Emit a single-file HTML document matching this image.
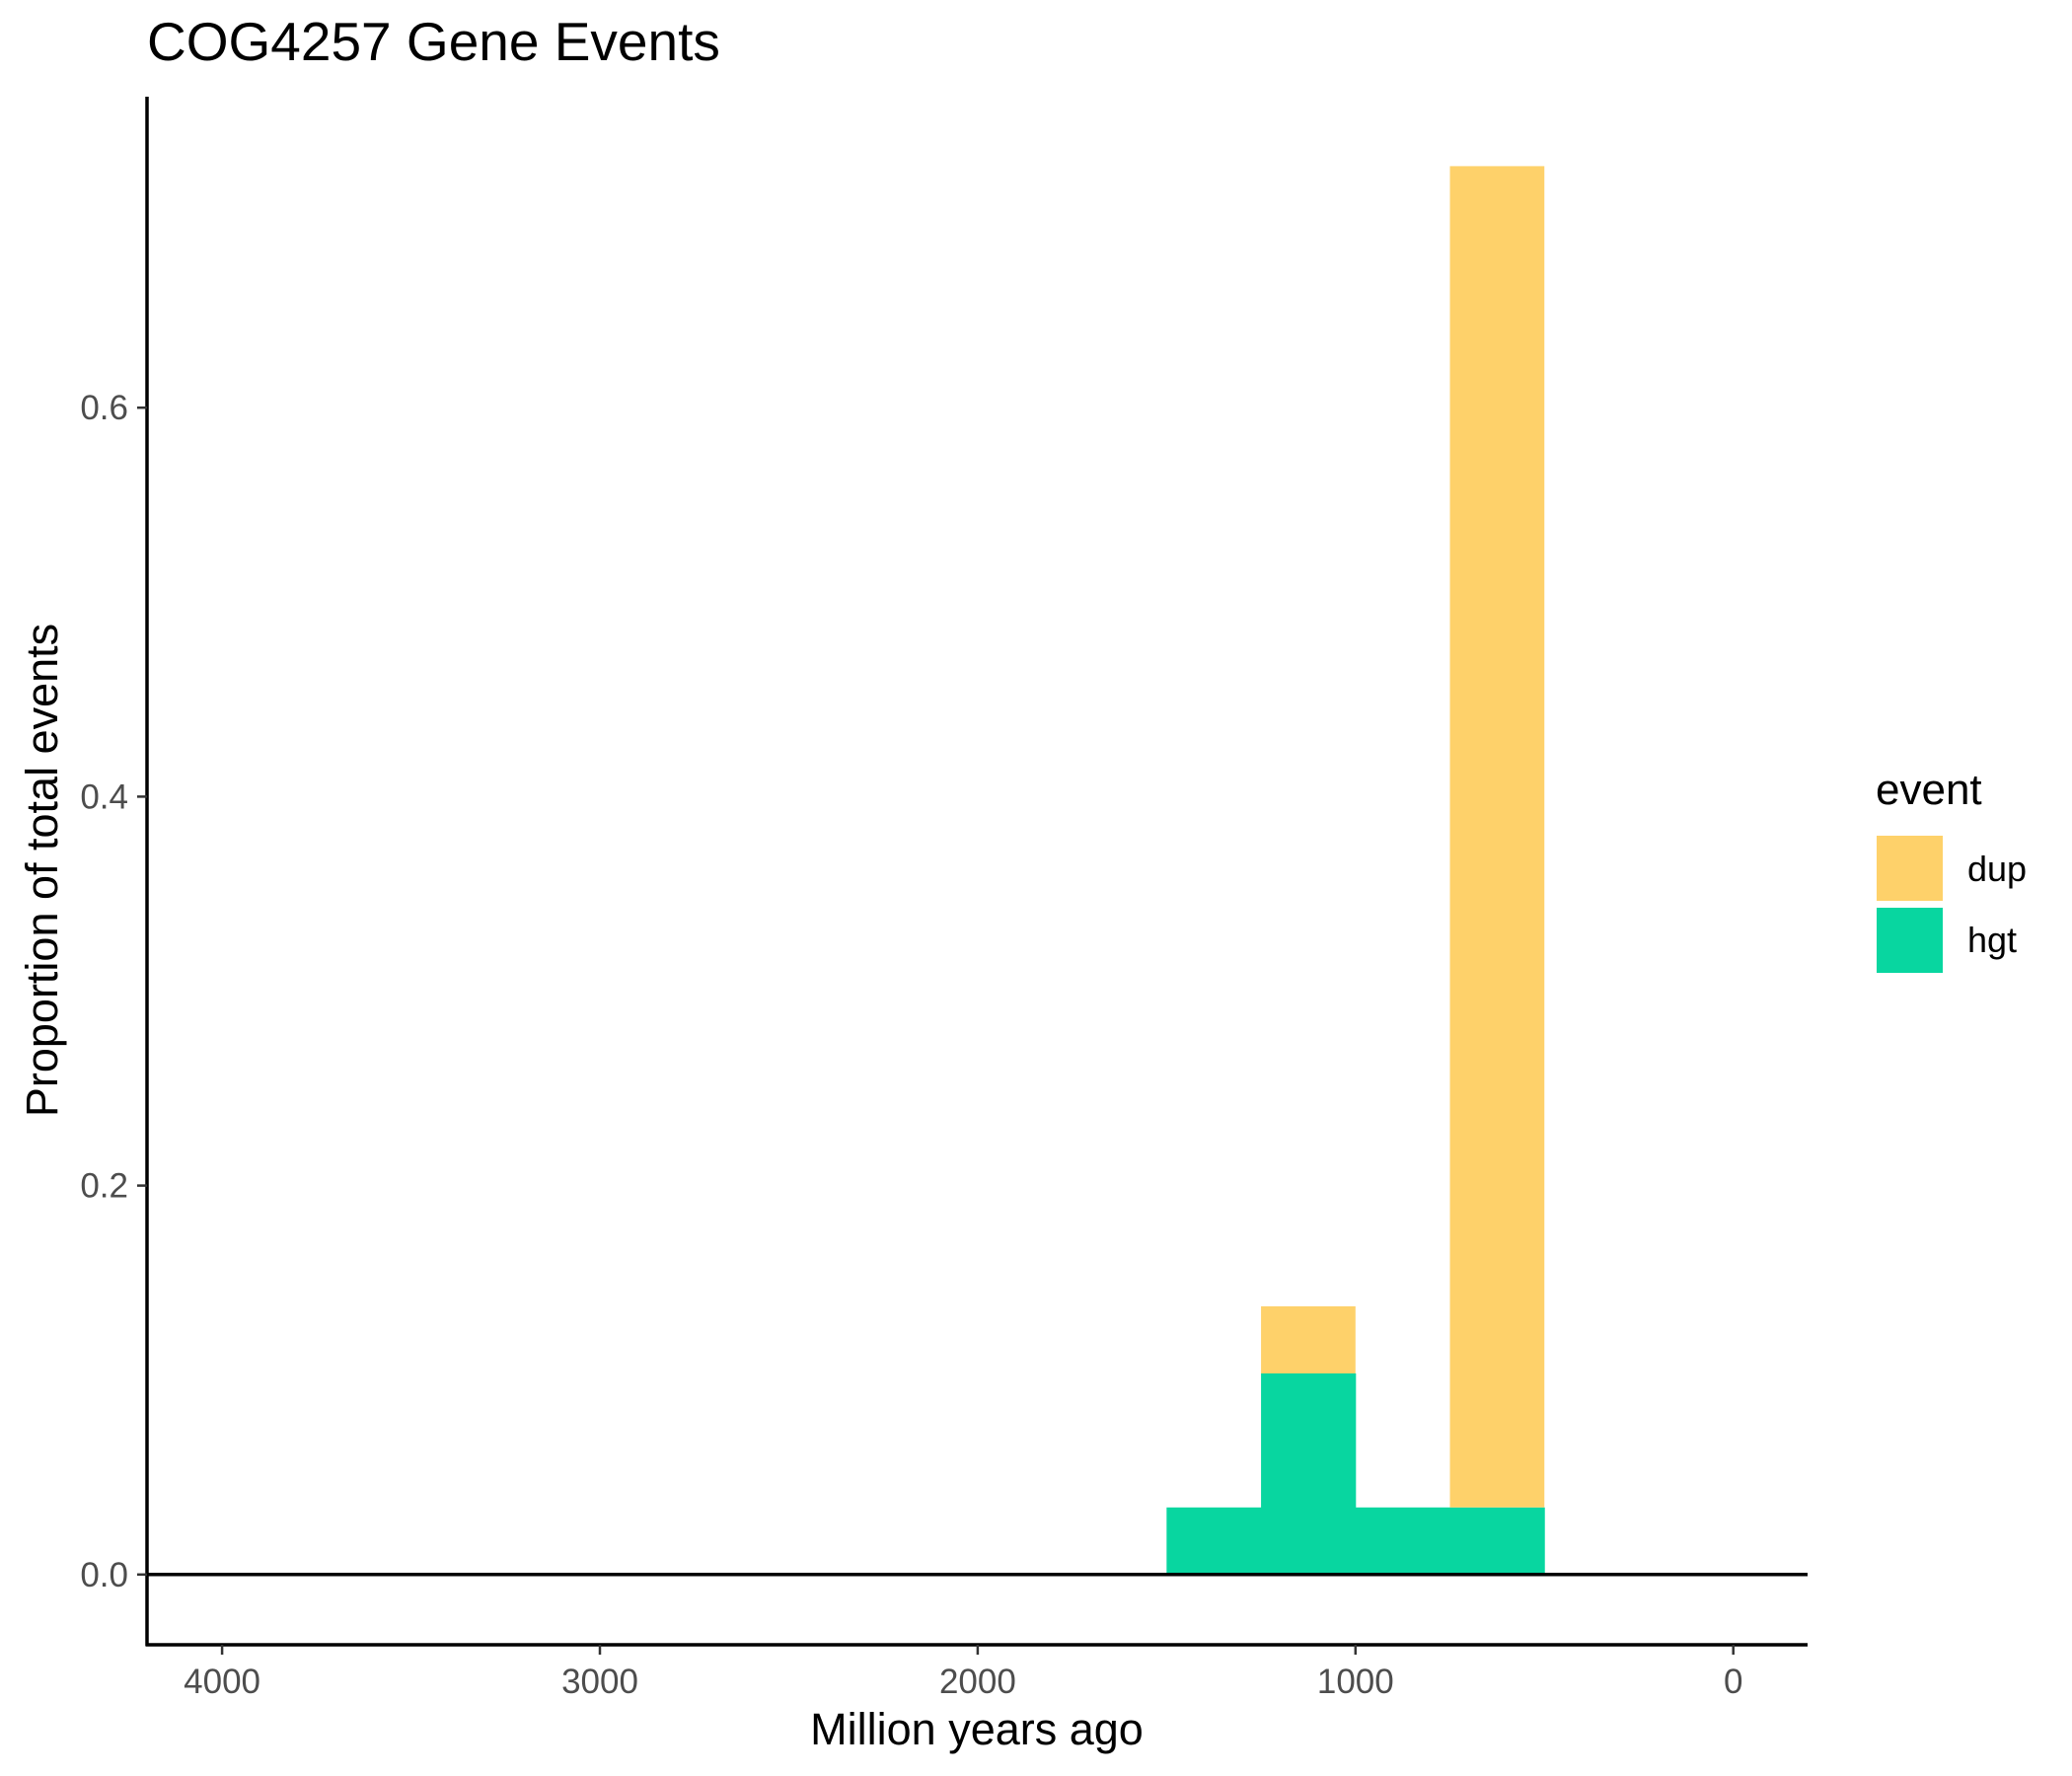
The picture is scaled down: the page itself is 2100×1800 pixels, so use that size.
<!DOCTYPE html>
<html><head><meta charset="utf-8"><style>body{margin:0;background:#fff}svg{display:block}text{font-family:"Liberation Sans",sans-serif}</style></head>
<body>
<svg id="chart" width="2100" height="1800" viewBox="0 0 2100 1800">
<text x="149" y="61" font-size="55" fill="#000">COG4257 Gene Events</text>
<g id="marks"></g>
<g id="axes"></g>
<text x="990" y="1768" font-size="45" text-anchor="middle" fill="#000">Million years ago</text>
<text transform="translate(58,882) rotate(-90)" font-size="45" text-anchor="middle" fill="#000">Proportion of total events</text>
<g>
<text x="1901" y="815" font-size="44" fill="#000">event</text>
<rect x="1902" y="847" width="67" height="66" fill="#FED16A"/>
<text x="1994" y="893" font-size="36" fill="#000">dup</text>
<rect x="1902" y="920" width="67" height="66" fill="#08D6A0"/>
<text x="1994" y="965" font-size="36" fill="#000">hgt</text>
</g>
</svg>
<script>
const binStarts = [1500, 1250, 1000, 750];
const binWidth = 250;
const hgtValues = [0.0345, 0.1034, 0.0345, 0.0345];
const dupValues = [0, 0.0345, 0, 0.6897];
const xTicks = [4000, 3000, 2000, 1000, 0];
const yTicks = [0.0, 0.2, 0.4, 0.6];
const yTickLabels = ["0.0", "0.2", "0.4", "0.6"];

const NS = "http://www.w3.org/2000/svg";
const x = v => 1756.7 - v * 0.3829;
const y = v => 1595.8 - v * 1971;
const marks = document.getElementById('marks');
const axes = document.getElementById('axes');
function mk(tag, attrs, parent) {
  const e = document.createElementNS(NS, tag);
  for (const k in attrs) e.setAttribute(k, attrs[k]);
  parent.appendChild(e);
  return e;
}
binStarts.forEach((s, i) => {
  const x0 = x(s), x1 = x(s - binWidth);
  if (hgtValues[i] > 0) {
    const r = mk('rect', {x: x0, y: y(hgtValues[i]), width: x1 - x0 + 0.5, height: y(0) - y(hgtValues[i]), fill: '#08D6A0'}, marks);
    
    
  }
  if (dupValues[i] > 0) {
    const top = hgtValues[i] + dupValues[i];
    const r = mk('rect', {x: x0, y: y(top), width: x1 - x0, height: y(hgtValues[i]) - y(top), fill: '#FED16A'}, marks);
    
    
  }
});
const zl = mk('line', {x1: 149, x2: 1832, y1: y(0), y2: y(0), stroke: '#000', 'stroke-width': 3.5}, axes);


const ya = mk('line', {x1: 149, x2: 149, y1: 98, y2: 1668, stroke: '#000', 'stroke-width': 3.5}, axes);


const xa = mk('line', {x1: 147.5, x2: 1832, y1: 1667, y2: 1667, stroke: '#000', 'stroke-width': 3.5}, axes);


xTicks.forEach(t => {
  const tk = mk('line', {x1: x(t), x2: x(t), y1: 1667, y2: 1677, stroke: '#333', 'stroke-width': 2.5}, axes);
  
  
  const lb = mk('text', {x: x(t), y: 1716, 'font-size': 35, 'text-anchor': 'middle', fill: '#4d4d4d'}, axes);
  lb.textContent = t;
  
  
});
yTicks.forEach((t, i) => {
  const tk = mk('line', {x1: 139, x2: 149, y1: y(t), y2: y(t), stroke: '#333', 'stroke-width': 2.5}, axes);
  
  
  const lb = mk('text', {x: 130, y: y(t) + 12, 'font-size': 35, 'text-anchor': 'end', fill: '#4d4d4d'}, axes);
  lb.textContent = yTickLabels[i];
  
  
});
</script>
</body></html>
